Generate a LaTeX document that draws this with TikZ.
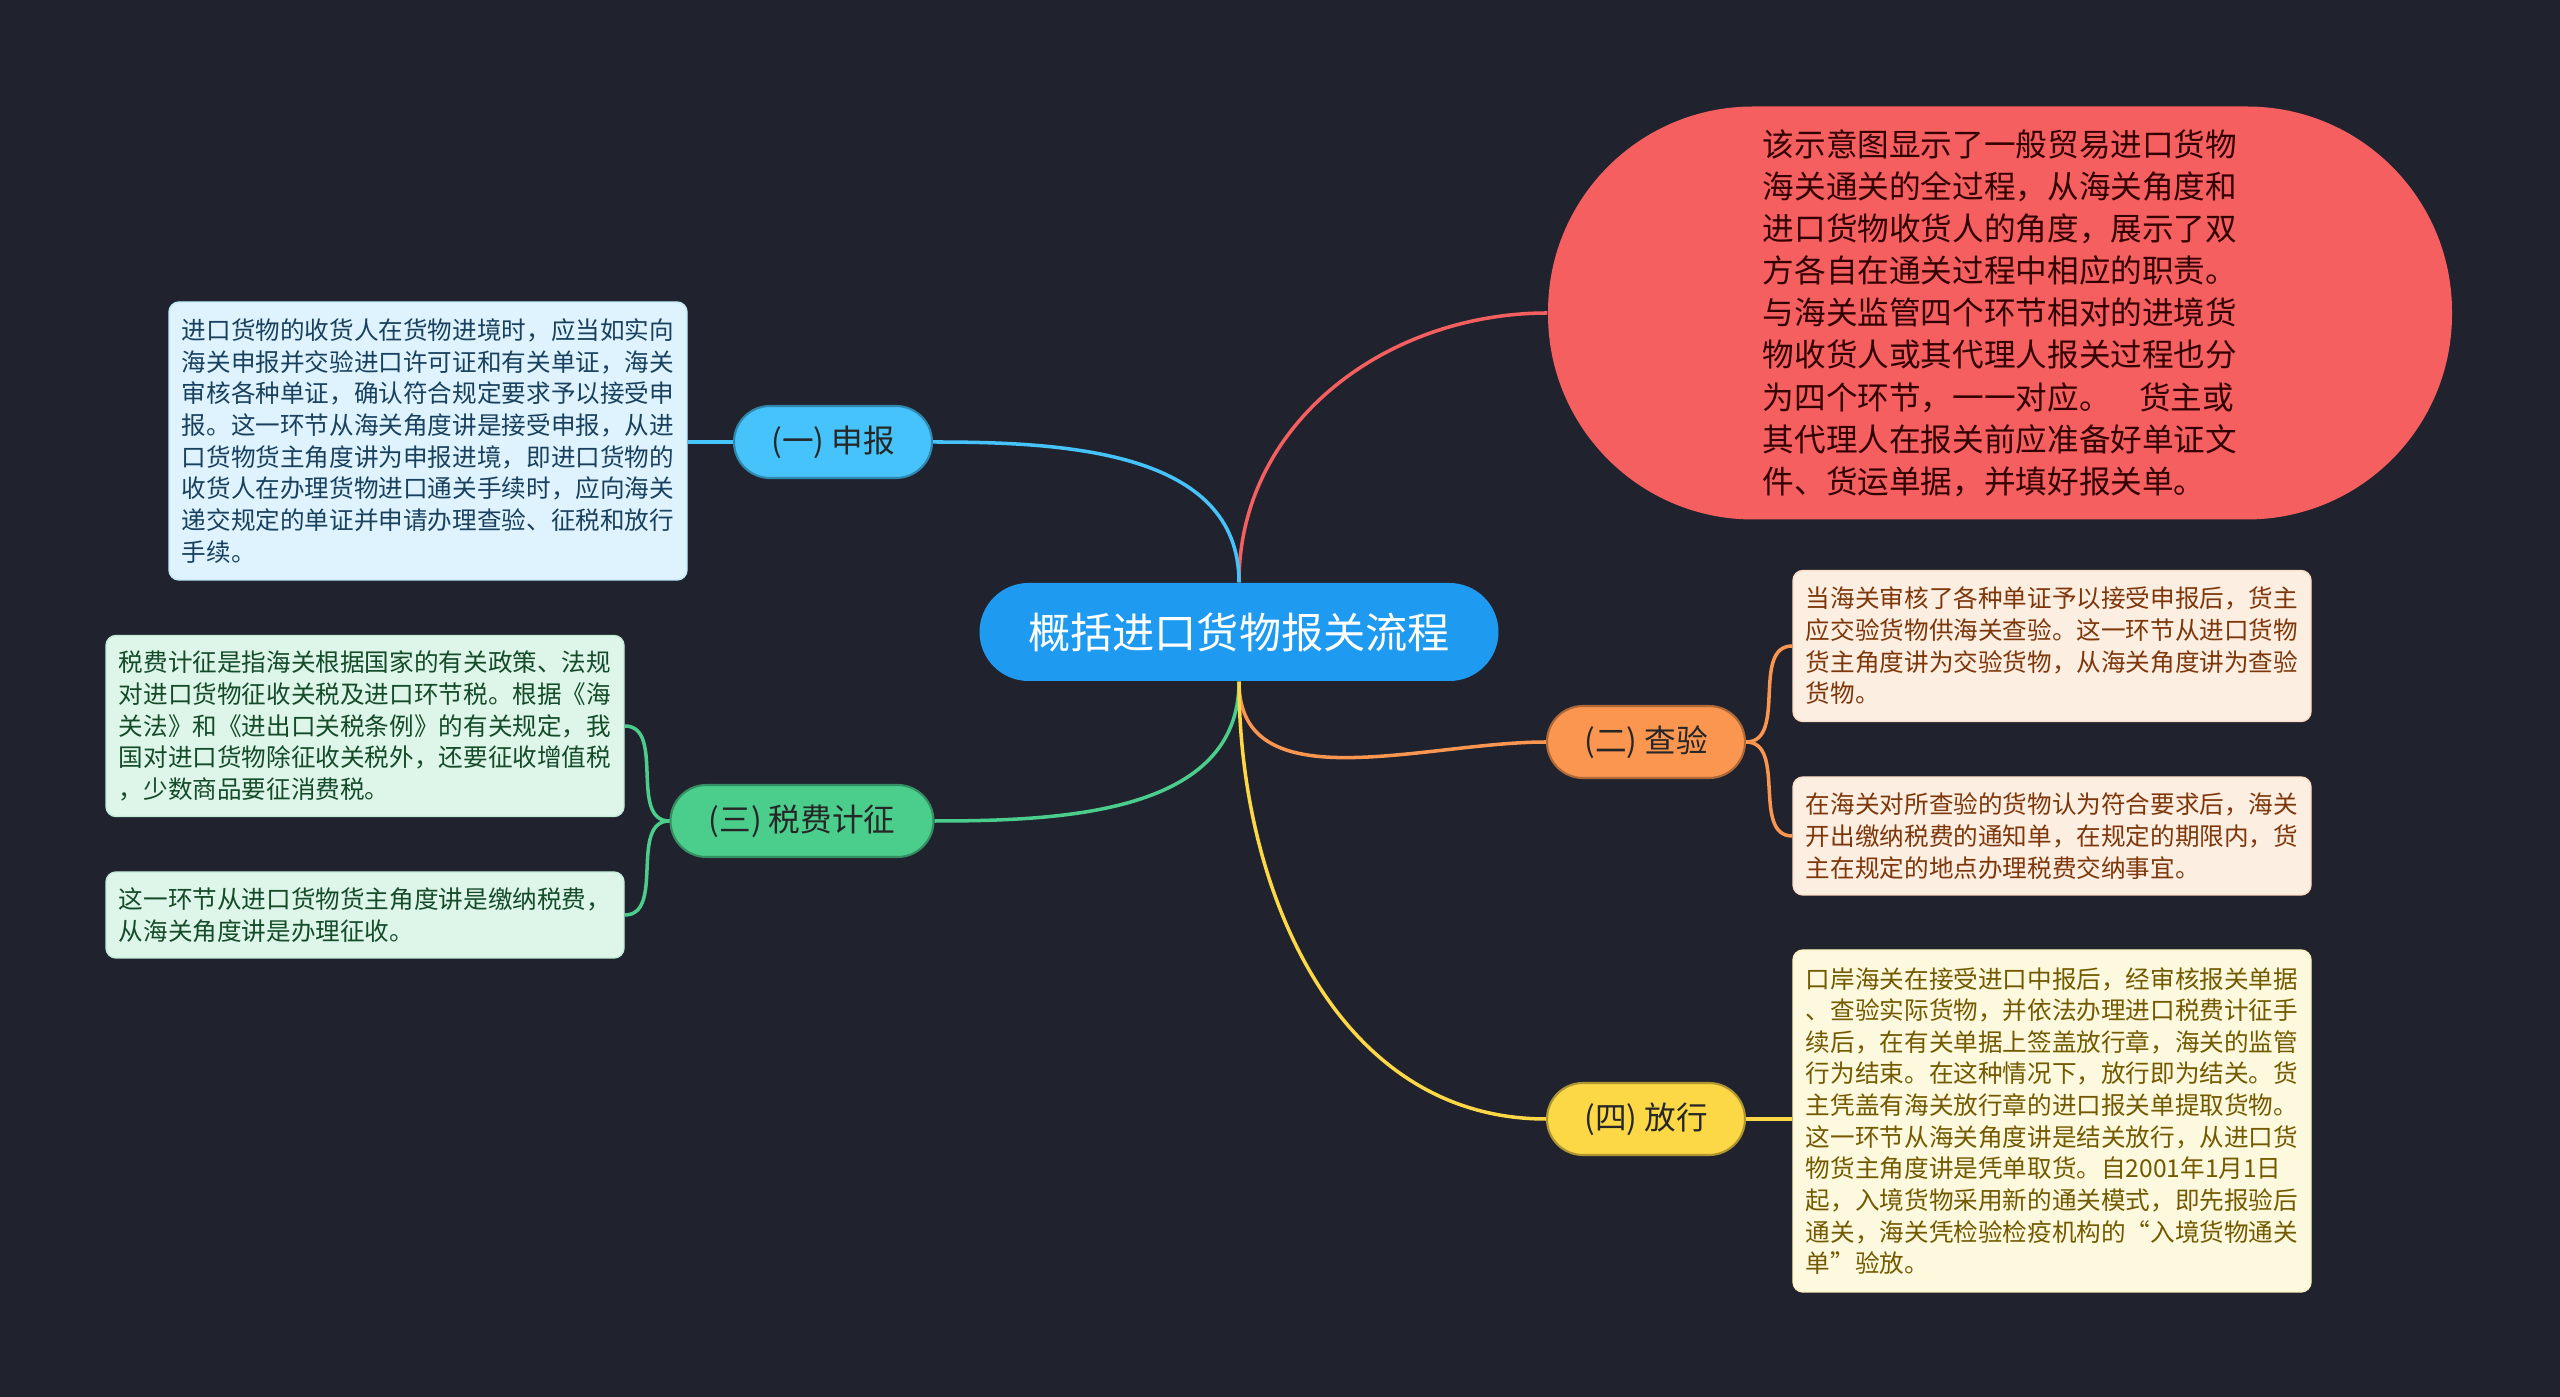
\documentclass[tikz,border=0pt]{standalone}
\usepackage{fontspec}
\setmainfont{Noto Sans CJK SC}
\usepackage{xcolor}
\usepackage{tikz}
\usetikzlibrary{positioning}
\definecolor{bgdark}{RGB}{32, 35, 46}
\definecolor{mainblue}{RGB}{30, 154, 240}
\definecolor{sbblue}{RGB}{70, 195, 250}
\definecolor{cyorange}{RGB}{250, 150, 80}
\definecolor{sfgreen}{RGB}{75, 205, 140}
\definecolor{fxyellow}{RGB}{252, 215, 70}
\definecolor{introred}{RGB}{245, 95, 95}
\definecolor{sbfill}{RGB}{222, 243, 253}
\definecolor{sffill}{RGB}{222, 245, 233}
\definecolor{cyfill}{RGB}{253, 238, 226}
\definecolor{fxfill}{RGB}{253, 249, 222}
\definecolor{sbtext}{RGB}{25, 65, 95}
\definecolor{sftext}{RGB}{20, 75, 40}
\definecolor{cytext}{RGB}{125, 55, 10}
\definecolor{fxtext}{RGB}{115, 90, 0}

\begin{document}
\begin{tikzpicture}[
    x=0.1mm, y=-0.1mm,
    central/.style={
        rectangle,
        fill=mainblue,
        rounded corners=4.9mm,
        minimum height=9.8mm,
        minimum width=51.9mm,
        font=\fontsize{12}{14}\selectfont,
        text=white
    },
    branch/.style={
        rectangle,
        rounded corners=3.6mm,
        minimum height=7.2mm,
        minimum width=19.8mm,
        font=\fontsize{9}{11}\selectfont,
        text=black!85,
        line width=0.6pt
    },
    detail/.style={
        rectangle,
        rounded corners=1mm,
        minimum width=51.8mm,
        inner sep=1mm,
        align=left,
        font=\fontsize{7}{9}\selectfont,
        line width=0.4pt
    },
    link/.style={line width=1pt}
]
    \useasboundingbox (0,0) rectangle (2560,1397);
    \fill[bgdark] (0,0) rectangle (2560,1397);

    % root and intro
    \node[central] (root) at (1239,632) {概括进口货物报关流程};
    \node[rectangle, fill=introred, rounded corners=20.5mm, minimum width=90.4mm,
          minimum height=41.3mm, align=left, text=black!80!red,
          font=\fontsize{9}{12}\selectfont] (intro) at (2000,313)
        {该示意图显示了一般贸易进口货物\\
         海关通关的全过程，从海关角度和\\
         进口货物收货人的角度，展示了双\\
         方各自在通关过程中相应的职责。\\
         与海关监管四个环节相对的进境货\\
         物收货人或其代理人报关过程也分\\
         为四个环节，一一对应。\hspace{0.9em}货主或\\
         其代理人在报关前应准备好单证文\\
         件、货运单据，并填好报关单。};

    % branches
    \node[branch, fill=sbblue, draw=sbblue!70!black] (sb) at (833,442) {(一) 申报};
    \node[branch, fill=cyorange, draw=cyorange!70!black] (cy) at (1646,742) {(二) 查验};
    \node[branch, fill=sfgreen, draw=sfgreen!70!black, minimum width=26.3mm] (sf) at (802,821) {(三) 税费计征};
    \node[branch, fill=fxyellow, draw=fxyellow!70!black] (fx) at (1646,1119) {(四) 放行};

    % details
    \node[detail, fill=sbfill, draw=sbfill!80!sbblue, text=sbtext, minimum height=27.8mm] (sb1) at (428,441)
        {进口货物的收货人在货物进境时，应当如实向\\
         海关申报并交验进口许可证和有关单证，海关\\
         审核各种单证，确认符合规定要求予以接受申\\
         报。这一环节从海关角度讲是接受申报，从进\\
         口货物货主角度讲为申报进境，即进口货物的\\
         收货人在办理货物进口通关手续时，应向海关\\
         递交规定的单证并申请办理查验、征税和放行\\
         手续。};
    \node[detail, fill=sffill, draw=sffill!80!sfgreen, text=sftext, minimum height=18.1mm] (sf1) at (365,726)
        {税费计征是指海关根据国家的有关政策、法规\\
         对进口货物征收关税及进口环节税。根据《海\\
         关法》和《进出口关税条例》的有关规定，我\\
         国对进口货物除征收关税外，还要征收增值税\\
         ，少数商品要征消费税。};
    \node[detail, fill=sffill, draw=sffill!80!sfgreen, text=sftext, minimum height=8.6mm] (sf2) at (365,915)
        {这一环节从进口货物货主角度讲是缴纳税费，\\
         从海关角度讲是办理征收。};
    \node[detail, fill=cyfill, draw=cyfill!80!cyorange, text=cytext, minimum height=15.1mm] (cy1) at (2052,646)
        {当海关审核了各种单证予以接受申报后，货主\\
         应交验货物供海关查验。这一环节从进口货物\\
         货主角度讲为交验货物，从海关角度讲为查验\\
         货物。};
    \node[detail, fill=cyfill, draw=cyfill!80!cyorange, text=cytext, minimum height=11.8mm] (cy2) at (2052,836)
        {在海关对所查验的货物认为符合要求后，海关\\
         开出缴纳税费的通知单，在规定的期限内，货\\
         主在规定的地点办理税费交纳事宜。};
    \node[detail, fill=fxfill, draw=fxfill!80!fxyellow, text=fxtext, minimum height=34.2mm] (fx1) at (2052,1121)
        {口岸海关在接受进口中报后，经审核报关单据\\
         、查验实际货物，并依法办理进口税费计征手\\
         续后，在有关单据上签盖放行章，海关的监管\\
         行为结束。在这种情况下，放行即为结关。货\\
         主凭盖有海关放行章的进口报关单提取货物。\\
         这一环节从海关角度讲是结关放行，从进口货\\
         物货主角度讲是凭单取货。自2001年1月1日\\
         起，入境货物采用新的通关模式，即先报验后\\
         通关，海关凭检验检疫机构的“入境货物通关\\
         单”验放。};

    % connectors
    \draw[link, introred] (root.north) to[out=90, in=180] (intro.west);
    \draw[link, sbblue] (root.north) to[out=90, in=0] (sb.east);
    \draw[link, cyorange] (root.south) to[out=-90, in=180] (cy.west);
    \draw[link, sfgreen] (root.south) to[out=-90, in=0] (sf.east);
    \draw[link, fxyellow] (root.south) to[out=-90, in=180] (fx.west);
    \draw[link, sbblue] (sb.west) -- (sb1.east |- sb.west);
    \draw[link, cyorange] (cy.east) to[out=0, in=180] (cy1.west);
    \draw[link, cyorange] (cy.east) to[out=0, in=180] (cy2.west);
    \draw[link, sfgreen] (sf.west) to[out=180, in=0] (sf1.east);
    \draw[link, sfgreen] (sf.west) to[out=180, in=0] (sf2.east);
    \draw[link, fxyellow] (fx.east) -- (fx1.west |- fx.east);
\end{tikzpicture}
\end{document}
